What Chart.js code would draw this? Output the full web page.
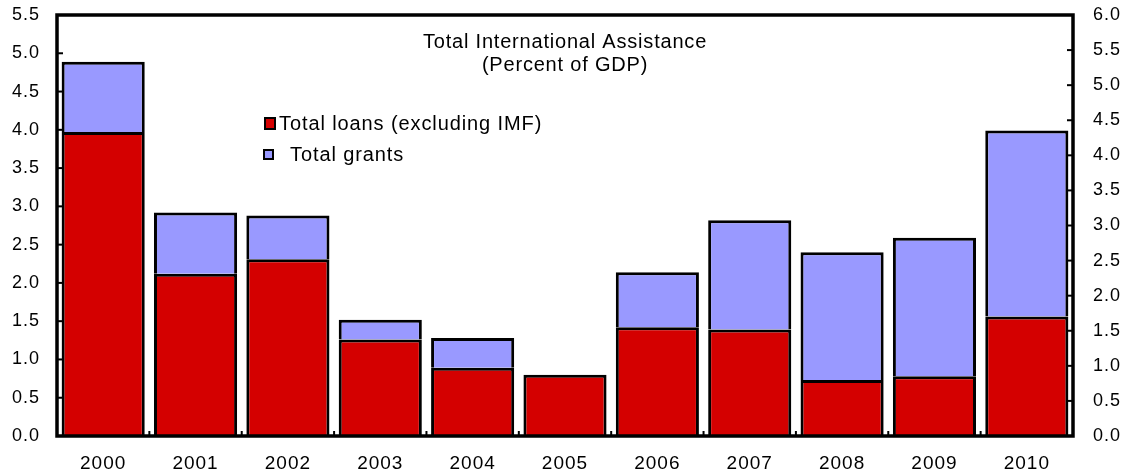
<!DOCTYPE html>
<html>
<head>
<meta charset="utf-8">
<script src="https://cdn.jsdelivr.net/npm/chart.js@4.4.1/dist/chart.umd.min.js"></script>
<style>
  html, body { margin: 0; padding: 0; background: #fff; }
  #wrap { width: 1134px; height: 476px; }
</style>
</head>
<body>
<div id="wrap"><canvas id="myChart" width="1134" height="476"></canvas></div>
<script>
const years = ['2000', '2001', '2002', '2003', '2004', '2005', '2006', '2007', '2008', '2009', '2010'];
const loans = [3.97, 2.12, 2.31, 1.26, 0.89, 0.80, 1.42, 1.39, 0.73, 0.78, 1.56];
const grants = [0.92, 0.80, 0.57, 0.26, 0.39, 0, 0.72, 1.43, 1.67, 1.81, 2.43];
const leftTicks = [0, 0.5, 1, 1.5, 2, 2.5, 3, 3.5, 4, 4.5, 5, 5.5];
const rightTicks = [0, 0.5, 1, 1.5, 2, 2.5, 3, 3.5, 4, 4.5, 5, 5.5, 6];

const FONT = 'Liberation Sans, Arial, sans-serif';

// letter spacing like the original rendering
const spacing = {
    id: 'spacing',
    beforeDraw(chart) { chart.ctx.letterSpacing = '1px'; }
};

// frame, inner ticks, title and legend
const decor = {
    id: 'decor',
    afterDatasetsDraw(chart) {
        const ctx = chart.ctx;
        const a = chart.chartArea;
        const y = chart.scales.y, y2 = chart.scales.y2, x = chart.scales.x;
        ctx.save();
        ctx.strokeStyle = '#000';
        ctx.lineWidth = 2;
        leftTicks.forEach(v => {
            const py = y.getPixelForValue(v);
            ctx.beginPath(); ctx.moveTo(a.left, py); ctx.lineTo(a.left + 6, py); ctx.stroke();
        });
        rightTicks.forEach(v => {
            const py = y2.getPixelForValue(v);
            ctx.beginPath(); ctx.moveTo(a.right, py); ctx.lineTo(a.right - 6, py); ctx.stroke();
        });
        for (let i = 1; i < years.length; i++) {
            const px = (x.getPixelForValue(i - 1) + x.getPixelForValue(i)) / 2;
            ctx.beginPath(); ctx.moveTo(px, a.bottom); ctx.lineTo(px, a.bottom - 5); ctx.stroke();
        }
        ctx.lineWidth = 3.5;
        ctx.strokeRect(a.left, a.top, a.right - a.left, a.bottom - a.top);

        ctx.fillStyle = '#000';
        ctx.font = '20px ' + FONT;
        ctx.letterSpacing = '0.8px';
        ctx.textAlign = 'center';
        ctx.textBaseline = 'middle';
        ctx.fillText('Total International Assistance', 565, 42);
        ctx.fillText('(Percent of GDP)', 565, 65);

        ctx.textAlign = 'left';
        ctx.letterSpacing = '0.9px';
        ctx.lineWidth = 2;
        ctx.fillStyle = '#D40000';
        ctx.fillRect(265, 118, 10, 11);
        ctx.strokeRect(265, 118, 10, 11);
        ctx.fillStyle = '#9999FF';
        ctx.fillRect(264, 150, 9, 9);
        ctx.strokeRect(264, 150, 9, 9);
        ctx.fillStyle = '#000';
        ctx.fillText('Total loans (excluding IMF)', 279, 124);
        ctx.fillText('Total grants', 290, 155);
        ctx.restore();
    }
};

const ctx2 = document.getElementById('myChart').getContext('2d');
const myChart = new Chart(ctx2, {
    type: 'bar',
    data: {
        labels: years,
        datasets: [{
            label: 'Total loans (excluding IMF)',
            data: loans,
            backgroundColor: '#D40000',
            borderColor: '#000',
            borderWidth: 3,
            stack: 's'
        }, {
            label: 'Total grants',
            data: grants,
            backgroundColor: '#9999FF',
            borderColor: '#000',
            borderWidth: 3,
            stack: 's'
        }]
    },
    options: {
        responsive: false,
        animation: false,
        layout: { padding: { top: 15, left: 0, right: 0, bottom: 0 } },
        plugins: {
            legend: { display: false },
            title: { display: false },
            tooltip: { enabled: false }
        },
        datasets: { bar: { barPercentage: 0.9, categoryPercentage: 1.0 } },
        scales: {
            x: {
                stacked: true,
                grid: { display: false },
                border: { display: false },
                ticks: { color: '#000', font: { family: FONT, size: 19 }, padding: 8 },
                afterFit(s) { s.height = 40; s.paddingLeft = 0; s.paddingRight = 0; }
            },
            y: {
                position: 'left',
                stacked: true,
                min: 0, max: 5.5,
                grid: { display: false },
                border: { display: false },
                afterBuildTicks(s) { s.ticks = leftTicks.map(v => ({ value: v })); },
                ticks: {
                    color: '#000', font: { family: FONT, size: 18 }, padding: 9,
                    callback: v => v.toFixed(1)
                },
                afterFit(s) { s.width = 57; s.paddingTop = 0; s.paddingBottom = 0; }
            },
            y2: {
                position: 'right',
                min: 0, max: 6,
                grid: { display: false },
                border: { display: false },
                afterBuildTicks(s) { s.ticks = rightTicks.map(v => ({ value: v })); },
                ticks: {
                    color: '#000', font: { family: FONT, size: 18 }, padding: 12,
                    callback: v => v.toFixed(1)
                },
                afterFit(s) { s.width = 61; s.paddingTop = 0; s.paddingBottom = 0; }
            }
        }
    },
    plugins: [spacing, decor]
});
</script>
</body>
</html>
